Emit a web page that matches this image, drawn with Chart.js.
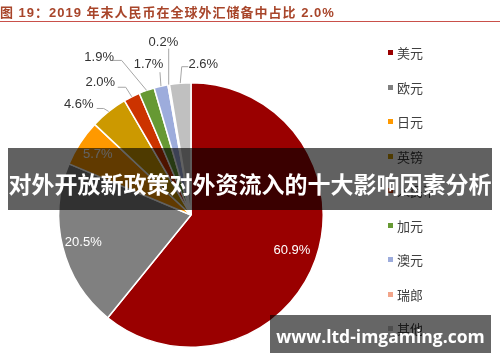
<!DOCTYPE html>
<html>
<head>
<meta charset="utf-8">
<script src="https://cdn.jsdelivr.net/npm/chart.js@4.4.1/dist/chart.umd.min.js"></script>
<style>
html, body { margin: 0; padding: 0; background: #fff; }
#wrap { position: relative; width: 500px; height: 362px; overflow: hidden; }
#title {
    position: absolute; left: 0; top: 0; width: 500px; height: 21px;
    border-bottom: 1.5px solid #c9504a;
    font: bold 13px "Liberation Sans", "Noto Sans CJK SC", sans-serif;
    letter-spacing: 1px; color: #a8452a; line-height: 25px; white-space: nowrap;
}
#chart { position: absolute; left: 0; top: 0; }
#legend { position: absolute; left: 0; top: 0; }
.item { position: absolute; left: 388px; height: 16px; line-height: 16px; font: 13px "Noto Sans CJK SC", sans-serif; color: #404040; white-space: nowrap; }
.item i { display: inline-block; width: 5px; height: 5px; margin-right: 4px; vertical-align: 3px; }
#banner {
    position: absolute; left: 8px; top: 148px; width: 484px; height: 62px;
    background: rgba(0, 0, 0, 0.62); color: #fff; text-align: center;
    font: bold 23px "Noto Sans CJK SC", sans-serif; line-height: 70px; white-space: nowrap;
}
#mark {
    position: absolute; left: 270px; top: 315px; width: 221px; height: 38px;
    background: rgba(0, 0, 0, 0.6); color: #fff; text-align: center;
    font: bold 17.5px "Open Sans", "DejaVu Sans", sans-serif; line-height: 42px; white-space: nowrap;
}
</style>
</head>
<body>
<div id="wrap">
    <canvas id="chart" width="500" height="362"></canvas>
    <div id="title">图 19：2019 年末人民币在全球外汇储备中占比 2.0%</div>
    <div id="legend"></div>
    <div id="banner">对外开放新政策对外资流入的十大影响因素分析</div>
    <div id="mark">www.ltd-imgaming.com</div>
</div>
<script>
// 2019年末全球外汇储备币种构成 (%)
const currencies = ['美元', '欧元', '日元', '英镑', '人民币', '加元', '澳元', '瑞郎', '其他'];
const shares = [60.9, 20.5, 5.7, 4.6, 2.0, 1.9, 1.7, 0.2, 2.6];

const colores = ['#9a0000', '#808080', '#ff9900', '#cc9900', '#cc3300', '#669933', '#9dacdc', '#f2a58a', '#c0c0c0'];

// posicao dos rotulos: dentro (fracao do raio) ou fora com linha de chamada
const rotulos = [
    { dentro: 0.81 },
    { dentro: 0.84 },
    { dentro: 0.84 },
    { linha: [[-5, -3], [-12, -3]], texto: [-30, -7] },
    { linha: [[-6, -9.5], [-14, -9.5]], texto: [-31.5, -14] },
    { linha: [[-25, -30], [-34, -30]], texto: [-47.5, -32.5] },
    { linha: [[-1, -14]], texto: [-12.5, -21.5] },
    { linha: [[0, -36]], texto: [-5.3, -42] },
    { linha: [[1.5, -16.5], [8, -16.5]], texto: [23, -19] }
];

const pieLabels = {
    id: 'pieLabels',
    afterDatasetsDraw(chart) {
        const ctx = chart.ctx;
        const meta = chart.getDatasetMeta(0);
        ctx.save();
        ctx.font = '13px "Liberation Sans", Arial, sans-serif';
        ctx.textAlign = 'center';
        ctx.textBaseline = 'middle';
        meta.data.forEach((arc, i) => {
            const p = arc.getProps(['x', 'y', 'startAngle', 'endAngle', 'outerRadius'], true);
            const mid = (p.startAngle + p.endAngle) / 2;
            const txt = shares[i].toFixed(1) + '%';
            const r = rotulos[i];
            if (r.dentro) {
                ctx.fillStyle = '#ffffff';
                ctx.fillText(txt, p.x + Math.cos(mid) * p.outerRadius * r.dentro, p.y + Math.sin(mid) * p.outerRadius * r.dentro);
            } else {
                const ax = p.x + Math.cos(mid) * p.outerRadius;
                const ay = p.y + Math.sin(mid) * p.outerRadius;
                ctx.strokeStyle = '#a6a6a6';
                ctx.lineWidth = 1;
                ctx.beginPath();
                ctx.moveTo(ax, ay);
                r.linha.forEach(q => ctx.lineTo(ax + q[0], ay + q[1]));
                ctx.stroke();
                ctx.fillStyle = '#333333';
                ctx.fillText(txt, ax + r.texto[0], ay + r.texto[1]);
            }
        });
        ctx.restore();
    }
};

new Chart(document.getElementById('chart'), {
    type: 'pie',
    data: {
        labels: currencies,
        datasets: [{
            data: shares,
            backgroundColor: colores,
            borderColor: '#ffffff',
            borderWidth: 1.5
        }]
    },
    options: {
        responsive: false,
        animation: false,
        layout: {
            padding: { left: 58, right: 176, top: 82, bottom: 14 }
        },
        plugins: {
            legend: { display: false },
            tooltip: { enabled: false },
            title: { display: false }
        }
    },
    plugins: [pieLabels]
});

// legenda
const legenda = document.getElementById('legend');
currencies.forEach((nome, i) => {
    const d = document.createElement('div');
    d.className = 'item';
    d.style.top = (51 + i * 34.5 - 8) + 'px';
    d.innerHTML = '<i style="background:' + colores[i] + '"></i>' + nome;
    legenda.appendChild(d);
});
</script>
</body>
</html>
